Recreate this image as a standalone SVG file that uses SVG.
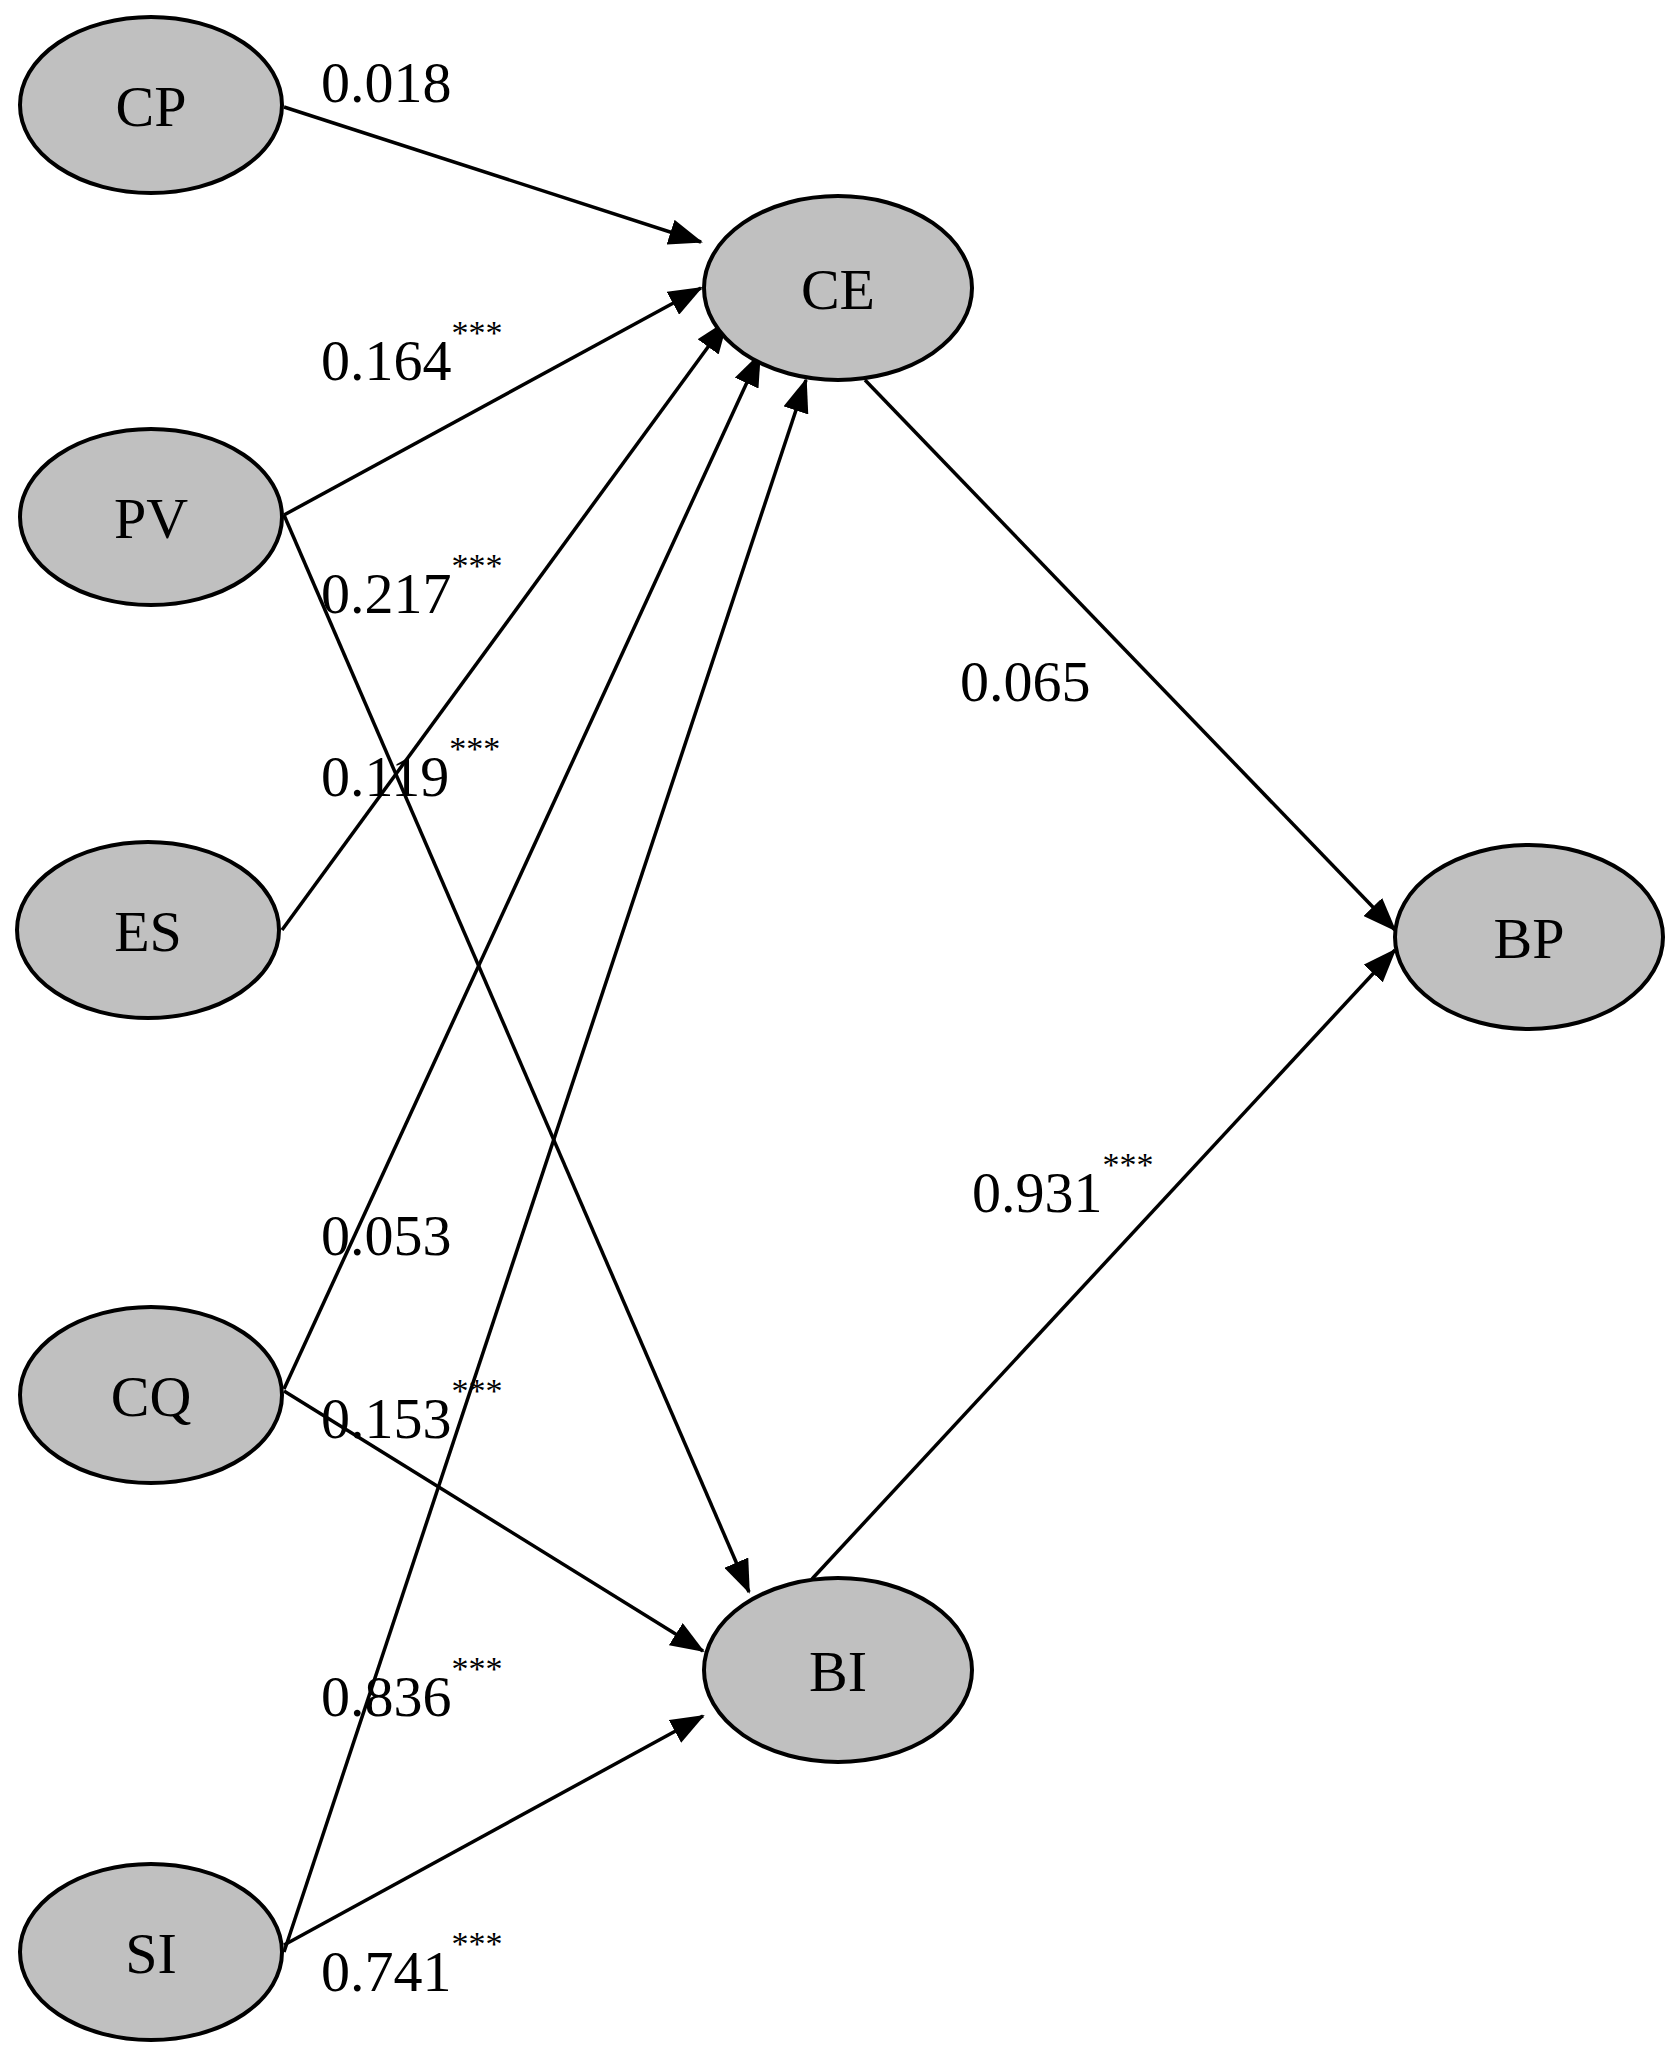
<svg xmlns="http://www.w3.org/2000/svg" width="1677" height="2058" viewBox="0 0 1677 2058">
<style>
.n ellipse{fill:#c0c0c0;stroke:#000;stroke-width:4}
text{font-family:"Liberation Serif",serif;font-size:58px;fill:#000}
.n text{text-anchor:middle}
.s{font-size:34px}
#edges line{stroke:#000;stroke-width:3.5;marker-end:url(#a)}
</style>
<defs><marker id="a" markerUnits="userSpaceOnUse" markerWidth="34" markerHeight="26" refX="32" refY="13" orient="auto"><path d="M0,0 L34,13 L0,26 Z" fill="#000"/></marker></defs>
<rect width="1677" height="2058" fill="#fff"/>
<g id="edges">
<line x1="284" y1="107" x2="701" y2="242"/>
<line x1="284" y1="515" x2="701" y2="288"/>
<line x1="284" y1="515" x2="749" y2="1592"/>
<line x1="282" y1="930" x2="727" y2="321"/>
<line x1="284" y1="1389" x2="760" y2="354"/>
<line x1="284" y1="1391" x2="703" y2="1651"/>
<line x1="284" y1="1952" x2="806" y2="380"/>
<line x1="284" y1="1945" x2="703" y2="1716"/>
<line x1="865" y1="380" x2="1395" y2="930"/>
<line x1="812" y1="1579" x2="1395" y2="950"/>
</g>
<g id="CP" class="n"><ellipse cx="151" cy="105" rx="131" ry="88"/><text x="151" y="126">CP</text></g>
<g id="PV" class="n"><ellipse cx="151" cy="517" rx="131" ry="88"/><text x="151" y="538">PV</text></g>
<g id="ES" class="n"><ellipse cx="148" cy="930" rx="131" ry="88"/><text x="148" y="951">ES</text></g>
<g id="CQ" class="n"><ellipse cx="151" cy="1395" rx="131" ry="88"/><text x="151" y="1416">CQ</text></g>
<g id="SI" class="n"><ellipse cx="151" cy="1952" rx="131" ry="88"/><text x="151" y="1973">SI</text></g>
<g id="CE" class="n"><ellipse cx="838" cy="288" rx="134" ry="92"/><text x="838" y="309">CE</text></g>
<g id="BI" class="n"><ellipse cx="838" cy="1670" rx="134" ry="92"/><text x="838" y="1691">BI</text></g>
<g id="BP" class="n"><ellipse cx="1529" cy="937" rx="134" ry="92"/><text x="1529" y="958">BP</text></g>
<g id="labels">
<text x="321" y="102">0.018</text>
<text x="321" y="380">0.164<tspan class="s" dy="-36">***</tspan></text>
<text x="321" y="613">0.217<tspan class="s" dy="-36">***</tspan></text>
<text x="321" y="796">0.119<tspan class="s" dy="-36">***</tspan></text>
<text x="321" y="1255">0.053</text>
<text x="321" y="1438">0.153<tspan class="s" dy="-36">***</tspan></text>
<text x="321" y="1716">0.836<tspan class="s" dy="-36">***</tspan></text>
<text x="321" y="1991">0.741<tspan class="s" dy="-36">***</tspan></text>
<text x="960" y="701">0.065</text>
<text x="972" y="1212">0.931<tspan class="s" dy="-36">***</tspan></text>
</g>
</svg>
